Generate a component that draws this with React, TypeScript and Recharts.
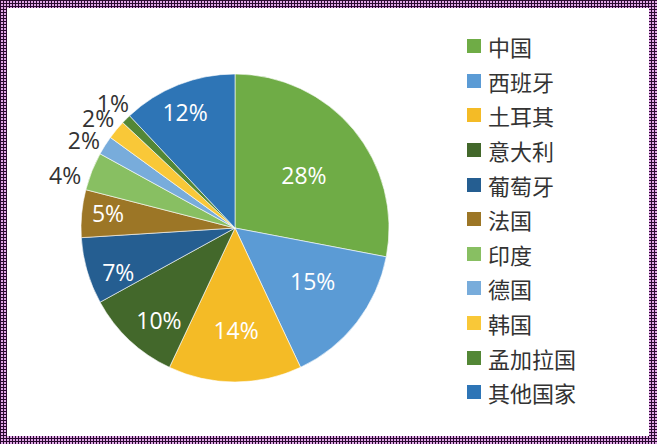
import React from 'react';
import { PieChart, Pie, Cell, Legend } from 'recharts';

const countries = ['中国', '西班牙', '土耳其', '意大利', '葡萄牙', '法国', '印度', '德国', '韩国', '孟加拉国', '其他国家'];
const shares = [28, 15, 14, 10, 7, 5, 4, 2, 2, 1, 12];
const colors = ['#6FAC46', '#5B9BD5', '#F4BB26', '#43682B', '#255E91', '#9C7626', '#88BF62', '#78ACDB', '#F9C838', '#538736', '#2E75B6'];
// label placement: radial fraction of the outer radius, and angular nudge in degrees
const labelRadius = [0.565, 0.61, 0.66, 0.775, 0.81, 0.83, 1.155, 1.135, 1.14, 1.135, 0.82];
const labelAngleShift = [-2, 3.6, 0.6, 3.6, 4.4, -1.3, 4.3, 2.2, 0.8, -0.7, 1.7];
const labelOutside = [false, false, false, false, false, false, true, true, true, true, false];

const data = countries.map((name, i) => ({ name, value: shares[i] }));

const RAD = Math.PI / 180;

const renderLabel = (props: any) => {
  const { cx, cy, midAngle, outerRadius, index, value } = props;
  const r = outerRadius * labelRadius[index];
  const a = midAngle + labelAngleShift[index];
  const x = cx + r * Math.cos(-a * RAD);
  const y = cy + r * Math.sin(-a * RAD);
  return (
    <text
      x={x}
      y={y}
      textAnchor="middle"
      dominantBaseline="central"
      fill={labelOutside[index] ? '#333333' : '#FFFFFF'}
      fontSize={23}
      fontFamily="'Open Sans', sans-serif"
    >
      {value}%
    </text>
  );
};

const renderLegend = () => (
  <div style={{ display: 'flex', flexDirection: 'column' }}>
    {countries.map((c, i) => (
      <div key={c} style={{ display: 'flex', alignItems: 'center', height: 34.6 }}>
        <div style={{ width: 14, height: 14, background: colors[i], marginRight: 7 }} />
        <span style={{ fontFamily: "'Noto Sans CJK SC', sans-serif", fontSize: 22, color: '#333333', lineHeight: '22px' }}>{c}</span>
      </div>
    ))}
  </div>
);

export default function App() {
  return (
    <div
      style={{
        position: 'absolute',
        left: 0,
        top: 0,
        width: 657,
        height: 444,
        backgroundColor: '#e0a6e6',
        backgroundImage:
          'linear-gradient(90deg, #2a0a30 1px, transparent 1px), linear-gradient(#2a0a30 1px, transparent 1px)',
        backgroundSize: '3px 3px',
      }}
    >
      <div style={{ position: 'absolute', left: 7, top: 8, width: 642, height: 428, background: '#FFFFFF' }} />
      <div style={{ position: 'absolute', left: 0, top: 0 }}>
        <PieChart width={657} height={444} margin={{ top: 0, right: 0, bottom: 0, left: 0 }}>
          <Pie
            data={data}
            dataKey="value"
            nameKey="name"
            cx={235}
            cy={228}
            outerRadius={154}
            startAngle={90}
            endAngle={-270}
            stroke="#FFFFFF"
            strokeWidth={0.6}
            label={renderLabel}
            labelLine={false}
            isAnimationActive={false}
          >
            {data.map((d, i) => (
              <Cell key={d.name} fill={colors[i]} />
            ))}
          </Pie>
          <Legend
            layout="vertical"
            align="right"
            verticalAlign="top"
            content={renderLegend}
            wrapperStyle={{ left: 467, top: 29, right: 'auto', width: 180 }}
          />
        </PieChart>
      </div>
    </div>
  );
}
